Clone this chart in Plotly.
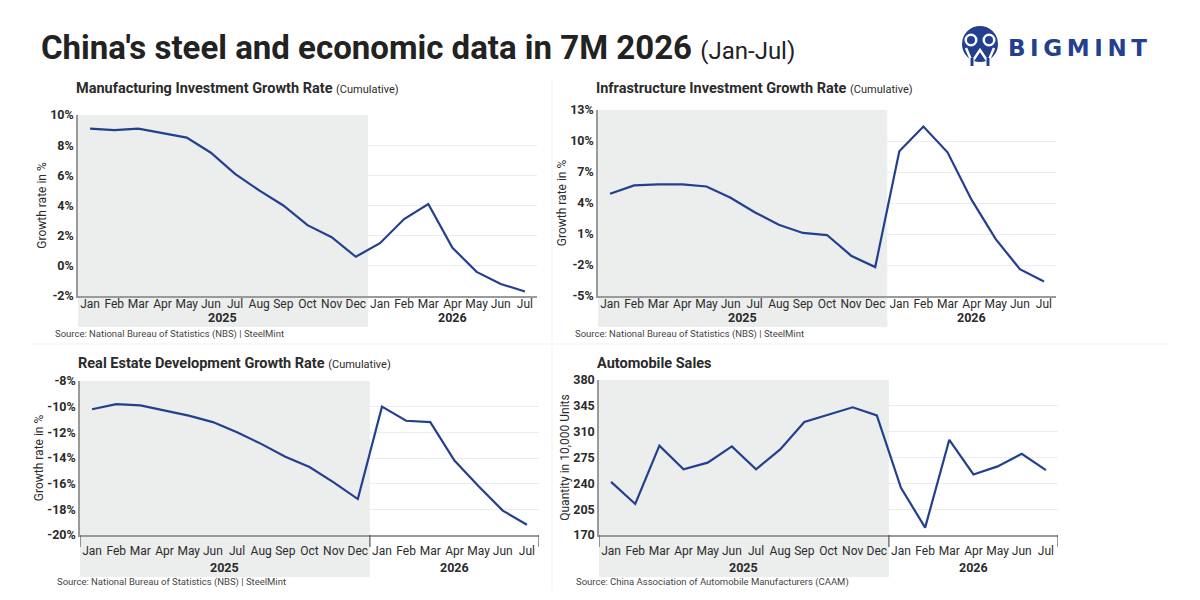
import plotly.graph_objects as go

# category axis shared by all four panels
months = ["Jan", "Feb", "Mar", "Apr", "May", "Jun", "Jul", "Aug", "Sep", "Oct", "Nov", "Dec",
          "Jan", "Feb", "Mar", "Apr", "May", "Jun", "Jul"]
years = ["2025"] * 12 + ["2026"] * 7

manufacturing = [9.1, 9.0, 9.1, 8.8, 8.5, 7.5, 6.1, 5.0, 4.0, 2.7, 1.9, 0.6,
                 1.5, 3.1, 4.1, 1.2, -0.4, -1.2, -1.7]
infrastructure = [4.9, 5.7, 5.8, 5.8, 5.6, 4.5, 3.1, 1.9, 1.1, 0.9, -1.1, -2.2,
                  9.0, 11.4, 8.9, 4.3, 0.5, -2.4, -3.6]
real_estate = [-10.2, -9.8, -9.9, -10.3, -10.7, -11.2, -12.0, -12.9, -13.9, -14.7, -15.9, -17.2,
               -10.0, -11.1, -11.2, -14.2, -16.2, -18.1, -19.2]
auto_sales = [242, 212, 291, 259, 268, 290, 259, 286, 323, 333, 343, 332,
              234, 180, 299, 252, 263, 280, 258]

mfg_ticks = [-2, 0, 2, 4, 6, 8, 10]
infra_ticks = [-5, -2, 1, 4, 7, 10, 13]
re_ticks = [-20, -18, -16, -14, -12, -10, -8]
auto_ticks = [170, 205, 240, 275, 310, 345, 380]

panels = [
    dict(title="Manufacturing Investment Growth Rate", sub="(Cumulative)", y=manufacturing,
         ticks=mfg_ticks, suffix="%", ytitle="Growth rate in %",
         source="Source: National Bureau of Statistics (NBS) | SteelMint",
         xdom=[78, 537], ydom=[115, 296], title_y=89, source_y=334, dividers=False),
    dict(title="Infrastructure Investment Growth Rate", sub="(Cumulative)", y=infrastructure,
         ticks=infra_ticks, suffix="%", ytitle="Growth rate in %",
         source="Source: National Bureau of Statistics (NBS) | SteelMint",
         xdom=[598, 1056], ydom=[110, 296], title_y=89, source_y=334, dividers=False),
    dict(title="Real Estate Development Growth Rate", sub="(Cumulative)", y=real_estate,
         ticks=re_ticks, suffix="%", ytitle="Growth rate in %",
         source="Source: National Bureau of Statistics (NBS) | SteelMint",
         xdom=[80, 539], ydom=[381, 535], title_y=363, source_y=582, dividers=True),
    dict(title="Automobile Sales", sub="", y=auto_sales,
         ticks=auto_ticks, suffix="", ytitle="Quantity in 10,000 Units",
         source="Source: China Association of Automobile Manufacturers (CAAM)",
         xdom=[599, 1058], ydom=[380, 535], title_y=363, source_y=582, dividers=True),
]

W, H = 1200, 600
LINE = "#22408f"
SHADE = "#eceeed"
GRID = "#ececec"
AXIS = "#9a9a9a"
TXT = "#2b2b2b"
BRAND = "#23408e"
FONT = "Roboto"


def px(x):
    return x / W


def py(y):
    return 1 - y / H


fig = go.Figure()
layout = dict(width=W, height=H, margin=dict(l=0, r=0, t=0, b=0, autoexpand=False),
              paper_bgcolor="white", plot_bgcolor="rgba(0,0,0,0)",
              showlegend=False, font=dict(family=FONT, color=TXT))
shapes = []
annotations = []

xs = list(range(len(months)))
n25 = years.count("2025")

for i, p in enumerate(panels, start=1):
    xa = "x" if i == 1 else f"x{i}"
    ya = "y" if i == 1 else f"y{i}"
    fig.add_trace(go.Scatter(x=xs, y=p["y"], mode="lines", xaxis=xa, yaxis=ya,
                             line=dict(color=LINE, width=2.2), hoverinfo="skip"))
    dom_h = p["ydom"][1] - p["ydom"][0]
    month_off = 15 if p["dividers"] else 7
    year_off = 32 if p["dividers"] else 21
    layout["xaxis" if i == 1 else f"xaxis{i}"] = dict(
        domain=[px(p["xdom"][0]), px(p["xdom"][1])], anchor=ya, range=[-0.5, len(months) - 0.5],
        tickvals=xs, ticktext=months, showgrid=False, zeroline=False,
        showline=True, linecolor=AXIS, linewidth=1.5, ticks="", automargin=False,
        ticklabelstandoff=month_off - 11,
        tickfont=dict(family=FONT, size=12, color=TXT), fixedrange=True)
    layout["yaxis" if i == 1 else f"yaxis{i}"] = dict(
        domain=[py(p["ydom"][1]), py(p["ydom"][0])], anchor=xa,
        range=[p["ticks"][0], p["ticks"][-1]],
        tickvals=p["ticks"], ticktext=[f"{t}{p['suffix']}" for t in p["ticks"]],
        showgrid=True, gridcolor=GRID, gridwidth=1, zeroline=False,
        showline=True, linecolor=AXIS, linewidth=1.5, ticks="", automargin=False,
        tickfont=dict(family=FONT, size=12.5, color=TXT, weight="bold"),
        title=dict(text=p["ytitle"], font=dict(family=FONT, size=12, color=TXT), standoff=1),
        fixedrange=True)

    # shaded 2025 block, reaching down under the tick labels
    shapes.append(dict(type="rect", xref=xa, yref=f"{ya} domain", x0=-0.5, x1=n25 - 0.5,
                       y0=-(year_off + 10) / dom_h, y1=1, fillcolor=SHADE,
                       line=dict(width=0), layer="below"))
    if p["dividers"]:
        for xv in [-0.5, n25 - 0.5, len(months) - 0.5]:
            shapes.append(dict(type="line", xref=xa, yref=f"{ya} domain", x0=xv, x1=xv,
                               y0=0, y1=-12 / dom_h, line=dict(color="#555555", width=1.2)))

    # year labels centred under each group
    for yr in ["2025", "2026"]:
        idx = [k for k, v in enumerate(years) if v == yr]
        annotations.append(dict(text=f"<b>{yr}</b>", xref=xa, yref=f"{ya} domain",
                                x=(idx[0] + idx[-1]) / 2, y=-year_off / dom_h, showarrow=False,
                                yanchor="middle", font=dict(family=FONT, size=12.5, color=TXT)))

    # panel title + source
    title_txt = f"<b>{p['title']}</b>"
    if p["sub"]:
        title_txt += f" <span style='font-size:11px'>{p['sub']}</span>"
    annotations.append(dict(text=title_txt, xref="paper", yref="paper",
                            x=px(p["xdom"][0] - 4), y=py(p["title_y"]),
                            xanchor="left", yanchor="middle", showarrow=False,
                            font=dict(family=FONT, size=14.5, color=TXT)))
    annotations.append(dict(text=p["source"], xref="paper", yref="paper",
                            x=px(p["xdom"][0] - 25), y=py(p["source_y"]),
                            xanchor="left", yanchor="middle", showarrow=False,
                            font=dict(family=FONT, size=9.5, color="#444444")))

# faint panel separators
shapes.append(dict(type="line", xref="paper", yref="paper", x0=px(552), x1=px(552),
                   y0=py(590), y1=py(80), line=dict(color="#f1f1f1", width=1)))
shapes.append(dict(type="line", xref="paper", yref="paper", x0=px(30), x1=px(1170),
                   y0=py(344), y1=py(344), line=dict(color="#f1f1f1", width=1)))

# main title
annotations.append(dict(text="<b>China's steel and economic data in 7M 2026</b> "
                             "<span style='font-size:24px'>(Jan-Jul)</span>",
                        xref="paper", yref="paper", x=px(39), y=py(48),
                        xanchor="left", yanchor="middle", showarrow=False,
                        font=dict(family=FONT, size=33, color="#222222")))

# logo: round icon + wordmark
shapes.append(dict(type="circle", xref="paper", yref="paper", x0=px(962), x1=px(998),
                   y0=py(62), y1=py(26), fillcolor=BRAND, line=dict(width=0)))
for cx in (971, 989):
    shapes.append(dict(type="circle", xref="paper", yref="paper", x0=px(cx - 6.5), x1=px(cx + 6.5),
                       y0=py(46.5), y1=py(33.5), fillcolor="white", line=dict(width=0)))
    shapes.append(dict(type="circle", xref="paper", yref="paper", x0=px(cx - 4), x1=px(cx + 4),
                       y0=py(44), y1=py(36), fillcolor=BRAND, line=dict(width=0)))
shapes.append(dict(type="path", xref="paper", yref="paper",
                   path=f"M {px(966)} {py(48)} L {px(972)} {py(62)} L {px(980)} {py(50)} "
                        f"L {px(988)} {py(62)} L {px(994)} {py(48)}",
                   line=dict(color="white", width=2.5)))
for lx in (972, 988):
    shapes.append(dict(type="rect", xref="paper", yref="paper", x0=px(lx - 1.5), x1=px(lx + 1.5),
                       y0=py(66), y1=py(58), fillcolor=BRAND, line=dict(width=0)))
annotations.append(dict(text="<b>B\u2009I\u2009G\u2009M\u2009I\u2009N\u2009T</b>",
                        xref="paper", yref="paper", x=px(1006), y=py(48),
                        xanchor="left", yanchor="middle", showarrow=False,
                        font=dict(family="DejaVu Sans", size=23, color=BRAND)))

layout["shapes"] = shapes
layout["annotations"] = annotations
fig.update_layout(**layout)

# pin the graph to the top-left corner of the page
pin = ("document.body.style.margin='0';document.body.style.overflow='hidden';"
       "var g=document.getElementsByClassName('plotly-graph-div')[0];"
       "g.style.position='absolute';g.style.top='0px';g.style.left='0px';")
fig.write_html("out.html", config={"displayModeBar": False}, post_script=pin)
